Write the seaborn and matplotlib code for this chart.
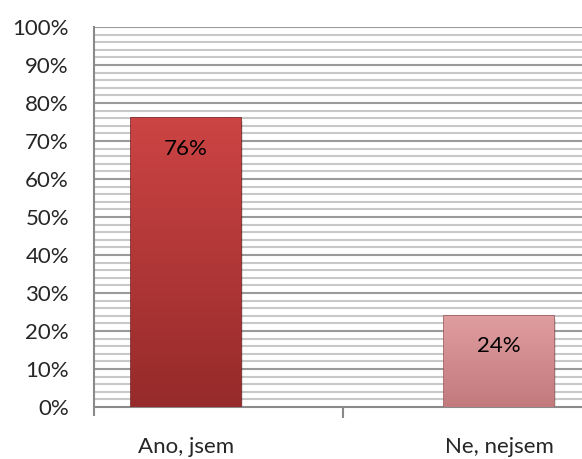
import matplotlib
matplotlib.use("Agg")
import matplotlib.pyplot as plt
from matplotlib.colors import LinearSegmentedColormap
import seaborn as sns
import pandas as pd
import numpy as np

categories = ["Ano, jsem", "Ne, nejsem"]
values = [76, 24]
labels = ["76%", "24%"]
bar_colors = ["#b83838", "#d68c8f"]
top_colors = ["#cc4444", "#e09da0"]
bottom_colors = ["#962a2a", "#c27a7d"]
edge_colors = ["#7a1e1e", "#9c5a5c"]

sns.set_theme(style="white")
plt.rcParams['font.family'] = ['Lato', 'DejaVu Sans']

df = pd.DataFrame({"cat": categories, "val": values})

fig = plt.figure(figsize=(5.82, 4.59), dpi=100)
ax = fig.add_axes([0.1615, 0.1133, 0.8385, 0.8279])

# gridlines every 2%, darker every 10%
for y in range(2, 101, 2):
    if y % 10 == 0:
        ax.axhline(y, color="#9a9a9a", lw=1.5, zorder=0)
    else:
        ax.axhline(y, color="#c8c8c8", lw=1.5, zorder=0)

sns.barplot(data=df, x="cat", y="val", hue="cat", palette=bar_colors,
            saturation=1, width=0.35, legend=False, ax=ax, zorder=3)

grad = np.linspace(0, 1, 256).reshape(-1, 1)
for patch, ec, tc, bc in zip(list(ax.patches), edge_colors, top_colors, bottom_colors):
    patch.set_edgecolor(ec)
    patch.set_linewidth(1.2)
    x0, w, h = patch.get_x(), patch.get_width(), patch.get_height()
    cmap = LinearSegmentedColormap.from_list("g", [bc, tc])
    im = ax.imshow(grad, cmap=cmap, extent=[x0, x0 + w, 0, h], origin="lower",
                   aspect="auto", zorder=3.5)
    im.set_clip_path(patch)
    # shadow
    ax.add_patch(plt.Rectangle((x0 + 0.008, -0.8), w, h, color="#000000",
                               alpha=0.12, zorder=2, lw=0))

for i, (v, lab) in enumerate(zip(values, labels)):
    ax.text(i, v - 8, lab, ha="center", va="center", fontsize=16,
            color="black", zorder=5)

ax.set_xlim(-0.294, 1.265)
ax.set_ylim(0, 100)
ax.set_aspect("auto")
ax.set_yticks(range(0, 101, 10))
ax.set_yticklabels([f"{t}%" for t in range(0, 101, 10)], fontsize=16)
ax.set_xticks([0.5])
ax.set_xticklabels([""])
ax.tick_params(axis="x", bottom=True, length=8, width=1.5, color="#8a8a8a",
               direction="out")
ax.tick_params(axis="y", length=0, pad=18)
ax.set_xlabel("")
ax.set_ylabel("")
for i, c in enumerate(categories):
    ax.text(i, -10.6, c, ha="center", va="center", fontsize=16,
            clip_on=False)

for s in ["top", "right"]:
    ax.spines[s].set_visible(False)
ax.spines["left"].set_color("#8a8a8a")
ax.spines["left"].set_linewidth(1.5)
ax.spines["left"].set_bounds(-2, 100)
ax.spines["bottom"].set_color("#8a8a8a")
ax.spines["bottom"].set_linewidth(1.5)

fig.savefig("out.png", dpi=100)
